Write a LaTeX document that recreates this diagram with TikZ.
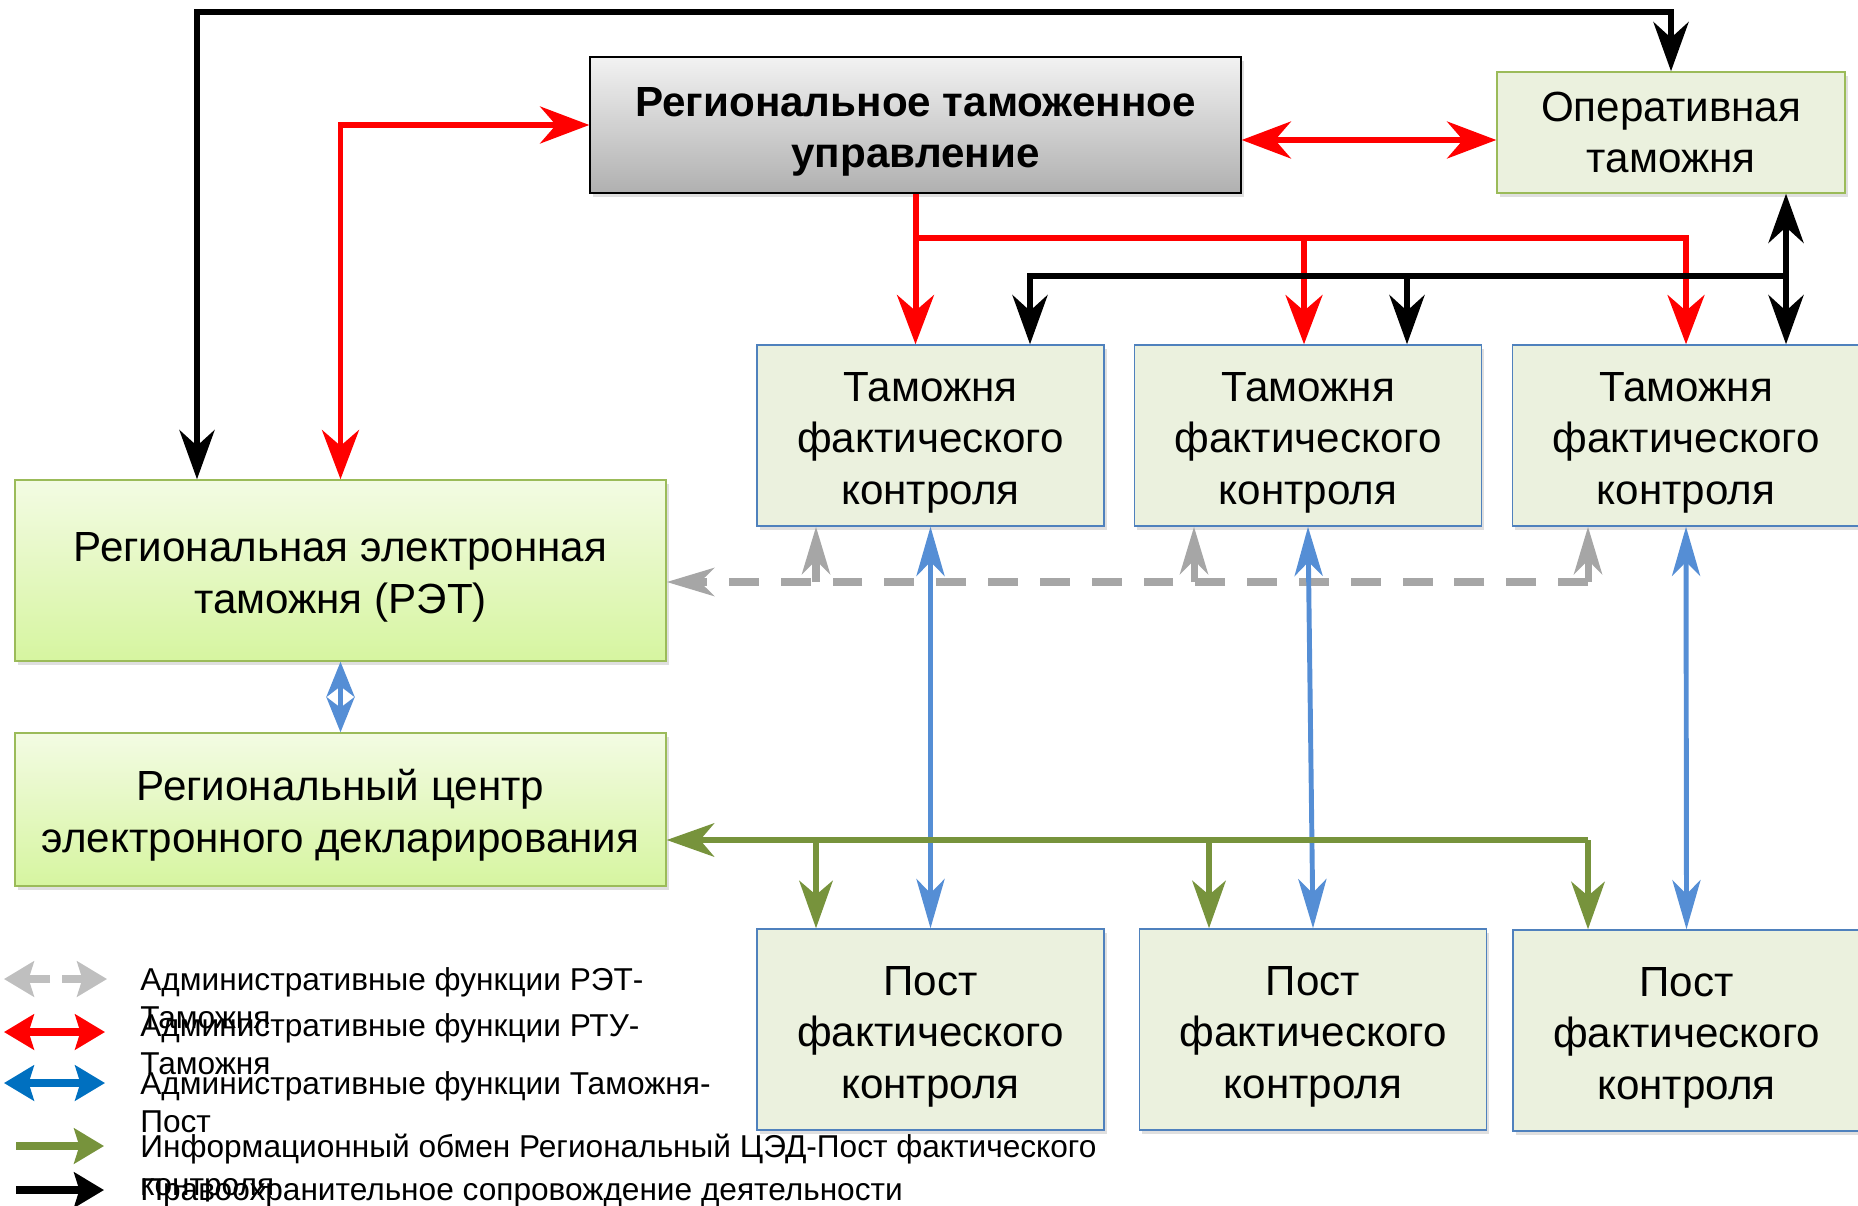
\documentclass[tikz,border=0pt]{standalone}
\usepackage{fontspec}
\setmainfont{Liberation Sans}
\usetikzlibrary{arrows.meta,positioning,calc,shadows}
\definecolor{rtured}{HTML}{FF0000}
\definecolor{retgray}{HTML}{A6A6A6}
\definecolor{postblue}{HTML}{558ED5}
\definecolor{cedgreen}{HTML}{77933C}
\definecolor{boxfill}{HTML}{EBF1DE}
\definecolor{boxblue}{HTML}{4F81BD}
\definecolor{boxgreen}{HTML}{9BBB59}
\definecolor{rettop}{HTML}{F3FBE3}
\definecolor{retbottom}{HTML}{D6F5A0}
\definecolor{rtutop}{HTML}{F2F2F2}
\definecolor{rtubottom}{HTML}{B0B0B0}
\definecolor{legblue}{HTML}{0070C0}
\definecolor{leggray}{HTML}{BFBFBF}
\newcommand{\boxstrut}{\rule{0pt}{24.5pt}}
\tikzset{
	% Boxes ----------------------------------------------------
	boxbase/.style={draw,line width=0.85pt,align=center,inner sep=0pt,
		font=\fontsize{24}{29.3}\selectfont,
		drop shadow={shadow xshift=1.5pt,shadow yshift=-2pt,opacity=.25}},
	tfkbox/.style={boxbase,draw=boxblue,fill=boxfill,minimum width=6.94cm,minimum height=3.62cm},
	postbox/.style={tfkbox,minimum height=4.02cm},
	opbox/.style={boxbase,draw=boxgreen,fill=boxfill,minimum width=6.96cm,minimum height=2.42cm},
	retbox/.style={boxbase,draw=boxgreen,top color=rettop,bottom color=retbottom,minimum width=13.02cm},
	rtubox/.style={boxbase,draw=black,top color=rtutop,bottom color=rtubottom,
		font=\fontsize{24}{29.3}\selectfont\bfseries,minimum width=13.02cm,minimum height=2.72cm},
	% Links ----------------------------------------------------
	redlink/.style={draw=rtured,line width=3.4pt,>={Stealth[length=28pt,width=21pt,inset=9pt]}},
	blacklink/.style={draw=black,line width=3.4pt,>={Stealth[length=28pt,width=20pt,inset=9pt]}},
	bluelink/.style={draw=postblue,line width=2.8pt,>={Stealth[length=28pt,width=16pt,inset=8pt]}},
	graylink/.style={draw=retgray,line width=4pt,>={Stealth[length=27pt,width=16pt,inset=8pt]}},
	greenlink/.style={draw=cedgreen,line width=3.4pt,>={Stealth[length=27pt,width=19pt,inset=8pt]}},
	% Legend ---------------------------------------------------
	legarrow/.style={line width=5pt,>={Stealth[length=17pt,width=20pt,inset=3pt]}},
	legtext/.style={anchor=north west,inner sep=0pt,align=left,font=\fontsize{18}{21.5}\selectfont},
}
\begin{document}
\begin{tikzpicture}[x=0.02cm,y=-0.02cm]
	\useasboundingbox (0,0) rectangle (1858,1206);
	\node[rtubox](rtu) at (915.5,125){\boxstrut Региональное таможенное\\управление};
	\node[opbox](ot) at (1671,132.5){Оперативная\\таможня};
	\node[tfkbox](tfk1) at (930.5,435.5){\boxstrut Таможня\\фактического\\контроля};
	\node[tfkbox](tfk2) at (1308,435.5){\boxstrut Таможня\\фактического\\контроля};
	\node[tfkbox](tfk3) at (1686,435.5){\boxstrut Таможня\\фактического\\контроля};
	\node[retbox,minimum height=3.62cm](ret) at (340.5,570.5){\boxstrut Региональная электронная\\таможня (РЭТ)};
	\node[retbox,minimum height=3.06cm](rced) at (340.5,809.5){\boxstrut Региональный центр\\электронного декларирования};
	\node[postbox](post1) at (930.5,1029.5){\boxstrut Пост\\фактического\\контроля};
	\node[postbox](post2) at (1313,1029.5){\boxstrut Пост\\фактического\\контроля};
	\node[postbox](post3) at (1686.5,1030.5){\boxstrut Пост\\фактического\\контроля};
	% trunk points
	\coordinate (blkTop) at (197,12);
	\coordinate (blkM) at (1030,276);
	\coordinate (blkM2) at (1407,276);
	\coordinate (blkR) at (1786,276);
	\coordinate (redH) at (0,140);
	\coordinate (redT) at (915,238);
	\coordinate (redB) at (1304,238);
	\coordinate (gray1) at (816,582);
	\coordinate (gray2) at (1194,582);
	\coordinate (grayR) at (1588,582);
	\coordinate (grn1) at (816,840);
	\coordinate (grn2) at (1209,840);
	\coordinate (grnR) at (1588,840);
	% red
	\draw[redlink,<->] (ret.north) |- (rtu.west);
	\draw[redlink,<->] (rtu.east |- redH) -- (ot.west |- redH);
	\draw[redlink,->] (rtu.south) -- (tfk1.north -| rtu.south);
	\draw[redlink,->] (redT) -| (tfk3.north);
	\draw[redlink,->] (redB) -- (tfk2.north -| redB);
	% black
	\draw[blacklink,<->] (ret.north -| blkTop) -- (blkTop) -| (ot.north);
	\draw[blacklink,<->] (ot.south -| blkR) -- (tfk3.north -| blkR);
	\draw[blacklink,->] (blkR) -| (tfk1.north -| blkM);
	\draw[blacklink,->] (blkM2) -- (tfk2.north -| blkM2);
	% gray
	\draw[graylink,dash pattern=on 17pt off 12.5pt,->] (grayR) -- (ret.east |- grayR);
	\draw[graylink,->] (gray1) -- (tfk1.south -| gray1);
	\draw[graylink,->] (gray2) -- (tfk2.south -| gray2);
	\draw[graylink,->] (grayR) -- (tfk3.south -| grayR);
	% blue
	\draw[bluelink,<->] (tfk1.south) -- (post1.north);
	\draw[bluelink,<->] (tfk2.south) -- (post2.north);
	\draw[bluelink,<->] (tfk3.south) -- (post3.north);
	\draw[bluelink,<->,>={Stealth[length=20pt,width=16pt,inset=6pt]}] (ret.south) -- (rced.north);
	% green
	\draw[greenlink,->] (grnR) -- (rced.east |- grnR);
	\draw[greenlink,->] (grn1) -- (post1.north -| grn1);
	\draw[greenlink,->] (grn2) -- (post2.north -| grn2);
	\draw[greenlink,->] (grnR) -- (post3.north -| grnR);
	% legend
	\draw[legarrow,leggray,->] (50,979) -- (4,979);
	\draw[legarrow,leggray,->] (62,979) -- (107,979);
	\draw[legarrow,rtured,<->] (4,1032) -- (105,1032);
	\draw[legarrow,legblue,<->] (4,1083) -- (105,1083);
	\draw[legarrow,cedgreen,->] (16,1146) -- (104,1146);
	\draw[legarrow,black,->] (16,1190) -- (104,1190);
	\node[legtext](leg1) at (140,967){Административные функции РЭТ-\\Таможня};
	\node[legtext](leg2) at (140,1013){Административные функции РТУ-\\Таможня};
	\node[legtext](leg3) at (140,1071){Административные функции Таможня-\\Пост};
	\node[legtext](leg4) at (140,1134){Информационный обмен Региональный ЦЭД-Пост фактического\\контроля};
	\node[legtext](leg5) at (140,1178){Правоохранительное сопровождение деятельности};
\end{tikzpicture}
\end{document}
